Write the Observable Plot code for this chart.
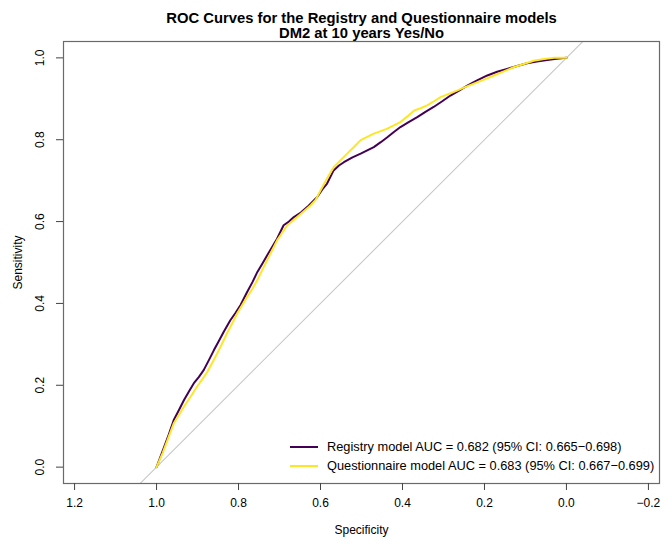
<!DOCTYPE html>
<html><head><meta charset="utf-8">
<script src="https://cdn.jsdelivr.net/npm/d3@7"></script>
<script src="https://cdn.jsdelivr.net/npm/@observablehq/plot@0.6"></script>
<style>
body{margin:0;background:#fff;}
#chart{width:664px;height:547px;}
#chart svg{font-family:"Liberation Sans",Arial,Helvetica,sans-serif;background:#fff;}
</style></head><body><div id="chart"></div>
<script>
const titleLines = ["ROC Curves for the Registry and Questionnaire models", "DM2 at 10 years Yes/No"];
const xLabel = "Specificity";
const yLabel = "Sensitivity";
const xTicks = [1.2, 1.0, 0.8, 0.6, 0.4, 0.2, 0.0, -0.2];
const yTicks = [0.0, 0.2, 0.4, 0.6, 0.8, 1.0];
const seriesNames = [
  "Registry model AUC = 0.682 (95% CI: 0.665\u22120.698)",
  "Questionnaire model AUC = 0.683 (95% CI: 0.667\u22120.699)"
];
const seriesColors = ["#440154", "#FDE725"];

// Registry model ROC curve: specificity, sensitivity
const registrySpec = [1,0.985,0.97,0.958,0.945,0.933,0.921,0.909,0.897,0.885,0.872,0.860,0.848,0.836,0.820,0.808,0.795,0.779,0.766,0.754,0.742,0.730,0.718,0.706,0.690,0.677,0.665,0.648,0.632,0.620,0.608,0.596,0.584,0.568,0.555,0.543,0.522,0.502,0.486,0.470,0.453,0.437,0.421,0.405,0.385,0.364,0.344,0.324,0.303,0.283,0.262,0.242,0.218,0.193,0.169,0.145,0.120,0.096,0.072,0.047,0.024,0];
const registrySens = [0,0.04,0.08,0.115,0.14,0.164,0.185,0.205,0.22,0.237,0.262,0.286,0.308,0.331,0.359,0.376,0.396,0.428,0.452,0.477,0.497,0.518,0.538,0.558,0.591,0.600,0.611,0.622,0.636,0.648,0.660,0.678,0.693,0.725,0.737,0.745,0.757,0.766,0.774,0.782,0.794,0.806,0.819,0.831,0.843,0.855,0.868,0.880,0.894,0.908,0.920,0.932,0.945,0.957,0.966,0.973,0.980,0.987,0.991,0.995,0.998,1];

// Questionnaire model ROC curve: specificity, sensitivity
const questSpec = [1,0.985,0.97,0.958,0.945,0.933,0.917,0.901,0.888,0.876,0.864,0.852,0.840,0.828,0.815,0.803,0.791,0.779,0.766,0.754,0.742,0.730,0.718,0.706,0.694,0.681,0.669,0.657,0.640,0.624,0.612,0.600,0.584,0.568,0.551,0.535,0.518,0.502,0.486,0.470,0.453,0.437,0.421,0.405,0.388,0.372,0.356,0.340,0.323,0.307,0.287,0.267,0.246,0.226,0.201,0.177,0.153,0.129,0.104,0.080,0.055,0.031,0];
const questSens = [0,0.035,0.075,0.107,0.128,0.148,0.172,0.197,0.215,0.233,0.255,0.278,0.302,0.327,0.352,0.376,0.396,0.416,0.436,0.457,0.482,0.506,0.530,0.554,0.572,0.591,0.601,0.611,0.626,0.640,0.653,0.676,0.705,0.733,0.750,0.766,0.783,0.799,0.807,0.815,0.821,0.827,0.835,0.843,0.857,0.871,0.877,0.884,0.894,0.904,0.912,0.920,0.929,0.937,0.947,0.957,0.967,0.977,0.985,0.993,0.997,1.0,1];

// Chance line: sensitivity = 1 - specificity, spanning beyond the frame (clipped)
const chanceSpec = [1.3, -0.3];

const rows = [];
registrySpec.forEach((s, i) => rows.push({model: seriesNames[0], spec: s, sens: registrySens[i]}));
questSpec.forEach((s, i) => rows.push({model: seriesNames[1], spec: s, sens: questSens[i]}));
const chance = chanceSpec.map(s => ({spec: s, sens: 1 - s}));

const fmt = d3.format(".1f");
const W = 664, H = 547, mL = 63, mR = 5, mT = 41, mB = 64;

const plot = Plot.plot({
  width: W, height: H,
  marginLeft: mL, marginRight: mR, marginTop: mT, marginBottom: mB,
  style: {fontFamily: '"Liberation Sans", Arial, Helvetica, sans-serif', fontSize: "12px", color: "#000", background: "#fff"},
  x: {domain: [1.227, -0.227], axis: null},
  y: {domain: [-0.04, 1.04], axis: null},
  color: {domain: seriesNames, range: seriesColors},
  marks: [
    Plot.line(chance, {x: "spec", y: "sens", stroke: "#c8c8c8", strokeWidth: 1.1, clip: true}),
    Plot.line(rows, {x: "spec", y: "sens", stroke: "model", z: "model", strokeWidth: 2, strokeLinejoin: "round"}),
    Plot.frame({stroke: "#6a6a6a", strokeWidth: 1.2}),
    Plot.axisX(xTicks, {tickSize: 7, tickPadding: 8, tickFormat: fmt, label: null, fontSize: 12, stroke: "#444"}),
    Plot.axisY(yTicks, {tickSize: 7, tickFormat: () => "", label: null, stroke: "#444"}),
    Plot.text(yTicks, {y: d => d, text: d => fmt(d), frameAnchor: "left", dx: -23, rotate: -90, textAnchor: "middle", lineAnchor: "middle", fontSize: 12}),
    Plot.text([yLabel], {text: d => d, frameAnchor: "left", dx: -45, rotate: -90, textAnchor: "middle", lineAnchor: "middle", fontSize: 12}),
    Plot.text([xLabel], {text: d => d, frameAnchor: "bottom", dy: 47, textAnchor: "middle", lineAnchor: "middle", fontSize: 12}),
    Plot.text([titleLines[0]], {text: d => d, frameAnchor: "top", dy: -19, lineAnchor: "bottom", fontWeight: "bold", fontSize: 14.8}),
    Plot.text([titleLines[1]], {text: d => d, frameAnchor: "top", dy: -4, lineAnchor: "bottom", fontWeight: "bold", fontSize: 14.8})
  ]
});

// Legend (bottom-right inside the plot frame, no box)
const svg = d3.select(plot);
const lg = svg.append("g").attr("font-size", 12.8).attr("text-anchor", "start")
  .attr("font-family", '"Liberation Sans", Arial, Helvetica, sans-serif');
const legendY = [447, 466];
seriesNames.forEach((name, i) => {
  lg.append("line").attr("x1", 290).attr("x2", 318).attr("y1", legendY[i]).attr("y2", legendY[i])
    .attr("stroke", seriesColors[i]).attr("stroke-width", 2);
  lg.append("text").attr("x", 327).attr("y", legendY[i]).attr("dy", "0.35em").attr("fill", "#000").text(name);
});

document.getElementById("chart").appendChild(plot);
</script>
</body></html>
